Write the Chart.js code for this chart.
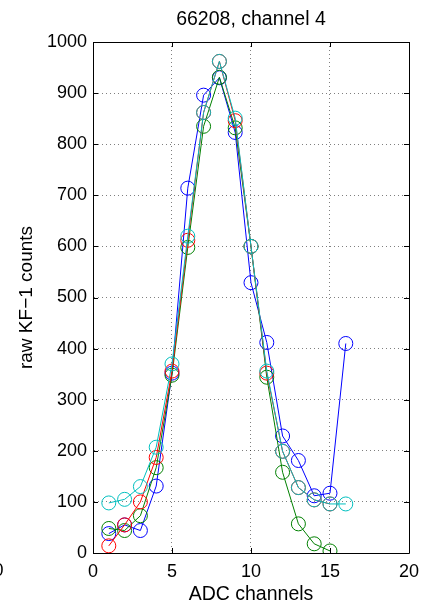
<!DOCTYPE html>
<html>
<head>
<meta charset="utf-8">
<title>66208, channel 4</title>
<script src="https://cdn.jsdelivr.net/npm/chart.js@4/dist/chart.umd.min.js"></script>
<style>
    html, body { margin: 0; padding: 0; background: #fff; }
    #wrap { width: 427px; height: 607px; }
</style>
</head>
<body>
<div id="wrap"><canvas id="plot" width="427" height="607"></canvas></div>
<script>
// Data
const channels = [1, 2, 3, 4, 5, 6, 7, 8, 9, 10, 11, 12, 13, 14, 15, 16];
const blueCounts  = [38, 55, 44, 131, 352, 714, 896, 930, 823, 529, 412, 229, 181, 112, 117, 410];
const greenCounts = [48, 44, 73, 167, 348, 598, 835, 931, 832, 600, 344, 158, 57, 18, 4];
const redCounts   = [14, 55, 100, 187, 356, 612, 862, 962, 846, 600, 352, 199, 128, 104, 96];
const cyanCounts  = [98, 105, 130, 207, 370, 620, 862, 962, 851, 600, 356, 199, 128, 104, 96, 96];
const xTicks = [0, 5, 10, 15, 20];
const yTicks = [0, 100, 200, 300, 400, 500, 600, 700, 800, 900, 1000];

const FONT = 'Liberation Sans, Arial, Helvetica, sans-serif';

function toPoints(counts) {
    return counts.map((v, i) => ({ x: channels[i], y: v }));
}

function series(label, counts, color, order) {
    return {
        label: label,
        data: toPoints(counts),
        borderColor: color,
        backgroundColor: 'rgba(0,0,0,0)',
        borderWidth: 1,
        pointStyle: 'circle',
        pointRadius: 7,
        pointBorderWidth: 1,
        pointBorderColor: color,
        pointBackgroundColor: 'rgba(0,0,0,0)',
        tension: 0,
        order: order
    };
}

// box on top/right + inward ticks like matlab
const matlabFrame = {
    id: 'matlabFrame',
    afterDraw(chart) {
        const ctx = chart.ctx;
        const a = chart.chartArea;
        const xs = chart.scales.x;
        const ys = chart.scales.y;
        const len = 5;
        ctx.save();
        ctx.strokeStyle = '#000';
        ctx.lineWidth = 1;
        ctx.beginPath();
        ctx.rect(Math.round(a.left) + 0.5, Math.round(a.top) + 0.5,
                 Math.round(a.right - a.left), Math.round(a.bottom - a.top));
        xTicks.forEach(t => {
            const px = Math.round(xs.getPixelForValue(t)) + 0.5;
            ctx.moveTo(px, a.bottom); ctx.lineTo(px, a.bottom - len);
            ctx.moveTo(px, a.top); ctx.lineTo(px, a.top + len);
        });
        yTicks.forEach(t => {
            const py = Math.round(ys.getPixelForValue(t)) + 0.5;
            ctx.moveTo(a.left, py); ctx.lineTo(a.left + len, py);
            ctx.moveTo(a.right, py); ctx.lineTo(a.right - len, py);
        });
        ctx.stroke();
        // leftover label of the neighbouring axes, cut at the edge
        ctx.fillStyle = '#000';
        ctx.font = '18px ' + FONT;
        ctx.textAlign = 'right';
        ctx.textBaseline = 'middle';
        ctx.fillText('0', 3.5, 571.5);
        ctx.restore();
    }
};

new Chart(document.getElementById('plot'), {
    type: 'line',
    data: {
        datasets: [
            series('blue', blueCounts, '#0000ff', 4),
            series('green', greenCounts, '#008000', 3),
            series('red', redCounts, '#ff0000', 2),
            series('cyan', cyanCounts, '#00bfbf', 1)
        ]
    },
    options: {
        responsive: false,
        animation: false,
        events: [],
        layout: { padding: { top: 0, right: 14, left: 0, bottom: 0 } },
        plugins: {
            legend: { display: false },
            tooltip: { enabled: false },
            title: {
                display: true,
                text: '66208, channel 4',
                color: '#000',
                fullSize: false,
                font: { family: FONT, size: 19.5, weight: 'normal' },
                padding: { top: 8, bottom: 10.6 }
            }
        },
        scales: {
            x: {
                type: 'linear',
                min: 0,
                max: 20,
                afterFit(scale) { scale.height = 54; },
                afterBuildTicks(scale) { scale.ticks = xTicks.map(v => ({ value: v })); },
                ticks: {
                    color: '#000',
                    padding: 8,
                    maxRotation: 0,
                    callback: v => String(v),
                    font: { family: FONT, size: 18 }
                },
                grid: {
                    color: ctx => (ctx.tick && (ctx.tick.value === 0 || ctx.tick.value === 20)) ? 'rgba(0,0,0,0)' : 'rgba(0,0,0,0.5)',
                    lineWidth: 1,
                    drawTicks: false
                },
                border: { display: true, color: '#000', width: 1, dash: [1, 3] },
                title: {
                    display: true,
                    text: 'ADC channels',
                    color: '#000',
                    font: { family: FONT, size: 19.5 },
                    padding: { top: 0, bottom: 1 }
                }
            },
            y: {
                type: 'linear',
                min: 0,
                max: 1000,
                afterFit(scale) { scale.width = 93; },
                afterBuildTicks(scale) { scale.ticks = yTicks.map(v => ({ value: v })); },
                ticks: {
                    color: '#000',
                    padding: 6,
                    callback: v => String(v),
                    font: { family: FONT, size: 18 }
                },
                grid: {
                    color: ctx => (ctx.tick && (ctx.tick.value === 0 || ctx.tick.value === 1000)) ? 'rgba(0,0,0,0)' : 'rgba(0,0,0,0.5)',
                    lineWidth: 1,
                    drawTicks: false
                },
                border: { display: true, color: '#000', width: 1, dash: [1, 3] },
                title: {
                    display: true,
                    text: 'raw KF\u22121 counts',
                    color: '#000',
                    font: { family: FONT, size: 19 },
                    padding: { top: 15, bottom: 0 }
                }
            }
        }
    },
    plugins: [matlabFrame]
});
</script>
</body>
</html>
